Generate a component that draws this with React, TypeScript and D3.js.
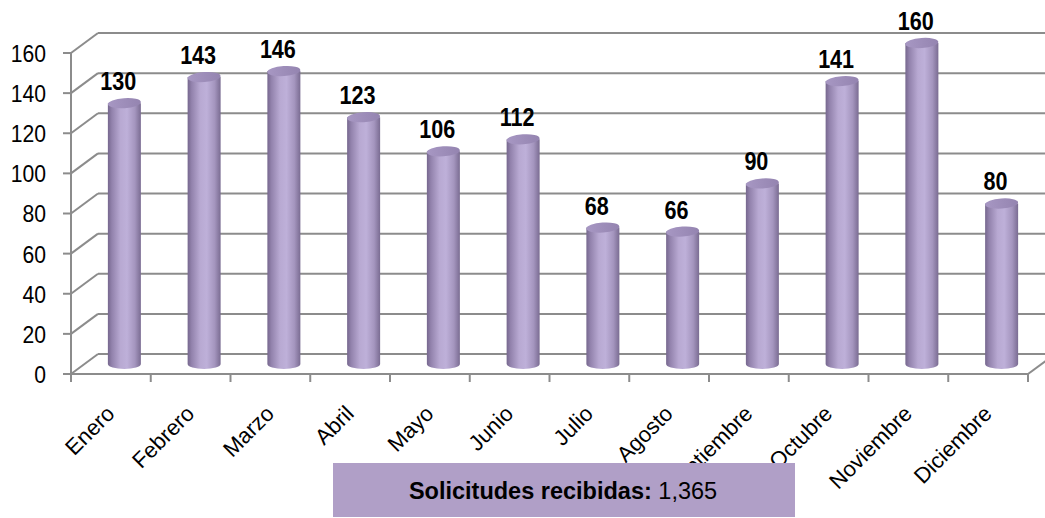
import React from "react";
import * as d3 from "d3";

const months = ["Enero","Febrero","Marzo","Abril","Mayo","Junio","Julio","Agosto","Septiembre","Octubre","Noviembre","Diciembre"];
const requests = [130,143,146,123,106,112,68,66,90,141,160,80];
const yTicks = [0,20,40,60,80,100,120,140,160];
const legendLabel = "Solicitudes recibidas:";
const legendTotal = "1,365";

const W = 1045, H = 518;
const FONT = "'Liberation Sans', Arial, sans-serif";
const DX = 27, DY = -20;
const GRID = "#8c8c8c";

export default function App() {
  const x = d3.scaleBand<string>().domain(months).range([71, 1028]).paddingInner(0).paddingOuter(0);
  const yF = d3.scaleLinear().domain([0, 160]).range([374, 53]);
  const bw = x.bandwidth();
  const rx = 16.5, ry = 5;

  return (
    <svg width={W} height={H} style={{ position: "absolute", left: 0, top: 0, background: "#fff" }}>
      <defs>
        <linearGradient id="body" x1="0" x2="1" y1="0" y2="0">
          <stop offset="0%" stopColor="#76678e" />
          <stop offset="12%" stopColor="#9282ac" />
          <stop offset="38%" stopColor="#b8a9d2" />
          <stop offset="58%" stopColor="#beb0d9" />
          <stop offset="82%" stopColor="#a495be" />
          <stop offset="100%" stopColor="#7a6c92" />
        </linearGradient>
        <linearGradient id="top" x1="0" x2="1" y1="0" y2="0">
          <stop offset="0%" stopColor="#a797c3" />
          <stop offset="100%" stopColor="#9484b0" />
        </linearGradient>
      </defs>
      <rect width={W} height={H} fill="#fff" />
      {yTicks.map(v => (
        <g key={"g" + v}>
          <line x1={71 + DX} x2={W + 10} y1={yF(v) + DY} y2={yF(v) + DY} stroke={GRID} strokeWidth={2} />
          <line x1={71} x2={71 + DX} y1={yF(v)} y2={yF(v) + DY} stroke={GRID} strokeWidth={2} />
        </g>
      ))}
      <line x1={1028} x2={1028 + DX} y1={yF(0)} y2={yF(0) + DY} stroke={GRID} strokeWidth={2} />
      <line x1={71} x2={71} y1={yF(0)} y2={yF(160)} stroke={GRID} strokeWidth={2} />
      <line x1={71} x2={1028} y1={yF(0)} y2={yF(0)} stroke={GRID} strokeWidth={2} />
      {yTicks.map(v => (
        <line key={"t" + v} x1={63} x2={71} y1={yF(v)} y2={yF(v)} stroke={GRID} strokeWidth={2} />
      ))}
      {d3.range(months.length + 1).map(i => {
        const xx = 71 + i * bw;
        return <line key={"xt" + i} x1={xx} x2={xx} y1={yF(0)} y2={yF(0) + 8} stroke={GRID} strokeWidth={2} />;
      })}
      {yTicks.map(v => (
        <text key={"yl" + v} x={46} y={yF(v) + 9} textAnchor="end" fontFamily={FONT} fontSize={23} fill="#000"
          transform={`translate(46 0) scale(0.92 1) translate(-46 0)`}>{v}</text>
      ))}
      {months.map((m, i) => {
        const cx = (x(m) as number) + bw / 2 + DX / 2;
        const yb = yF(0) + DY / 2;
        const yt = yF(requests[i]) + DY / 2;
        const l = cx - rx, r = cx + rx;
        const d = `M${l},${yt} L${l},${yb} A${rx},${ry} 0 0 0 ${r},${yb} L${r},${yt} Z`;
        const lx = cx - 6;
        return (
          <g key={m}>
            <path d={d} fill="url(#body)" />
            <ellipse cx={cx} cy={yt} rx={rx} ry={ry} fill="url(#top)" transform={`rotate(-4 ${cx} ${yt})`} />
            <text x={lx} y={yt - 13} textAnchor="middle" fontFamily={FONT} fontWeight="bold" fontSize={26} fill="#000"
              transform={`translate(${lx} 0) scale(0.83 1) translate(${-lx} 0)`}>{requests[i]}</text>
          </g>
        );
      })}
      {months.map(m => {
        const ax = (x(m) as number) + bw / 2 + 5;
        const ay = 415;
        return (
          <text key={"c" + m} x={ax} y={ay} textAnchor="end" fontFamily={FONT} fontSize={22} fill="#000" transform={`rotate(-45 ${ax} ${ay})`}>{m}</text>
        );
      })}
      <rect x={333} y={463} width={462} height={54} fill="#b09fc7" />
      <text x={563} y={499} textAnchor="middle" fontFamily={FONT} fontSize={23.5} fill="#000">
        <tspan fontWeight="bold">{legendLabel}</tspan>
        <tspan>{" " + legendTotal}</tspan>
      </text>
    </svg>
  );
}
